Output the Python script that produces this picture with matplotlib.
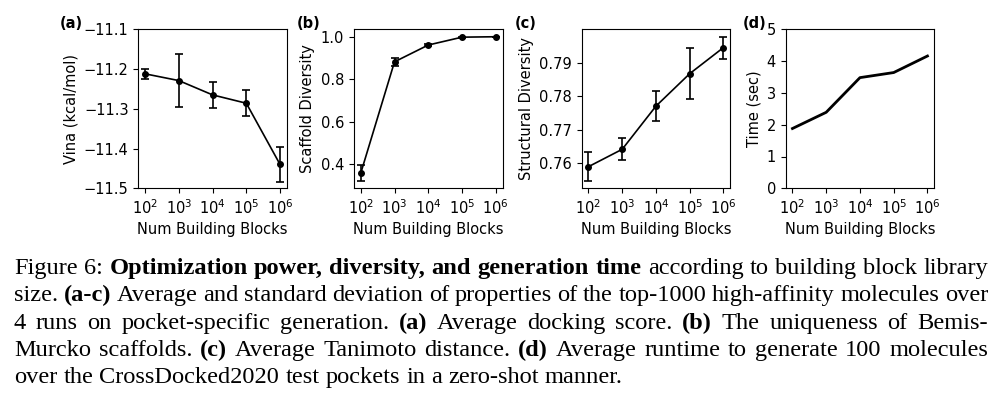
import numpy as np
import matplotlib
matplotlib.use("Agg")
import matplotlib.pyplot as plt
from matplotlib.ticker import NullLocator, MultipleLocator

# --- data ---
blocks = [1e2, 1e3, 1e4, 1e5, 1e6]
vina_mean = [-11.212, -11.229, -11.265, -11.286, -11.440]
vina_std = [0.013, 0.067, 0.033, 0.033, 0.043]
scaffold_mean = [0.358, 0.882, 0.961, 0.998, 1.000]
scaffold_std = [0.037, 0.018, 0.005, 0.003, 0.001]
struct_mean = [0.7589, 0.7641, 0.7770, 0.7867, 0.7945]
struct_std = [0.0043, 0.0033, 0.0044, 0.0077, 0.0033]
time_sec = [1.88, 2.39, 3.48, 3.64, 4.16]

panel_labels = ["(a)", "(b)", "(c)", "(d)"]
ylabels = ["Vina (kcal/mol)", "Scaffold Diversity", "Structural Diversity", "Time (sec)"]
xlabel = "Num Building Blocks"

caption = [
    [("Figure", 0), ("6:", 0), ("Optimization", 1), ("power,", 1), ("diversity,", 1), ("and", 1),
     ("generation", 1), ("time", 1), ("according", 0), ("to", 0), ("building", 0), ("block", 0), ("library", 0)],
    [("size.", 0), ("(a-c)", 1), ("Average", 0), ("and", 0), ("standard", 0), ("deviation", 0), ("of", 0),
     ("properties", 0), ("of", 0), ("the", 0), ("top-1000", 0), ("high-affinity", 0), ("molecules", 0), ("over", 0)],
    [("4", 0), ("runs", 0), ("on", 0), ("pocket-specific", 0), ("generation.", 0), ("(a)", 1), ("Average", 0),
     ("docking", 0), ("score.", 0), ("(b)", 1), ("The", 0), ("uniqueness", 0), ("of", 0), ("Bemis-", 0)],
    [("Murcko", 0), ("scaffolds.", 0), ("(c)", 1), ("Average", 0), ("Tanimoto", 0), ("distance.", 0), ("(d)", 1),
     ("Average", 0), ("runtime", 0), ("to", 0), ("generate", 0), ("100", 0), ("molecules", 0)],
    [("over", 0), ("the", 0), ("CrossDocked2020", 0), ("test", 0), ("pockets", 0), ("in", 0), ("a", 0),
     ("zero-shot", 0), ("manner.", 0)],
]

plt.rcParams['font.family'] = 'DejaVu Sans'
plt.rcParams['font.size'] = 10.5
plt.rcParams['mathtext.fontset'] = 'dejavusans'

W, H = 1001, 397
fig = plt.figure(figsize=(W / 100, H / 100), dpi=100)

lefts = [138.3, 354.0, 581.7, 785.7]
label_x = [60, 297, 515, 743]
ax_w, ax_top, ax_bot = 148.5, 29.3, 188.3

axes = []
for i, l in enumerate(lefts):
    ax = fig.add_axes([l / W, 1 - ax_bot / H, ax_w / W, (ax_bot - ax_top) / H])
    axes.append(ax)

kw = dict(color="black", lw=1.2, marker="o", ms=4, capsize=3, elinewidth=1.2, capthick=1.2)
axes[0].errorbar(blocks, vina_mean, yerr=vina_std, **kw)
axes[1].errorbar(blocks, scaffold_mean, yerr=scaffold_std, **kw)
axes[2].errorbar(blocks, struct_mean, yerr=struct_std, **kw)
axes[3].plot(blocks, time_sec, color="black", lw=2.0)

axes[0].set_ylim(-11.5, -11.1)
axes[0].yaxis.set_major_locator(MultipleLocator(0.1))
axes[1].yaxis.set_major_locator(MultipleLocator(0.2))
axes[2].yaxis.set_major_locator(MultipleLocator(0.01))
axes[3].set_ylim(0, 5)
axes[3].yaxis.set_major_locator(MultipleLocator(1))

for i, ax in enumerate(axes):
    ax.set_xscale("log")
    ax.xaxis.set_minor_locator(NullLocator())
    ax.set_xticks(blocks)
    ax.set_xlabel(xlabel)
    ax.set_ylabel(ylabels[i])
    fig.text(label_x[i] / W, 1 - 24 / H, panel_labels[i], fontweight="bold",
             fontsize=10.5, va="center", ha="left")

# --- caption, justified like the paper ---
cap_left, cap_right = 14, 988
baseline0, line_gap = 274, 27.3
cap_size = 17.6
renderer = fig.canvas.get_renderer()
for li, words in enumerate(caption):
    texts = []
    for word, bold in words:
        t = fig.text(0, 0, word, fontsize=cap_size, family="Liberation Serif",
                     fontweight="bold" if bold else "normal", va="baseline", ha="left")
        texts.append(t)
    widths = [t.get_window_extent(renderer).width for t in texts]
    space = renderer.points_to_pixels(cap_size) * 0.25
    if li < len(caption) - 1:
        space = (cap_right - cap_left - sum(widths)) / (len(words) - 1)
    x = cap_left
    y = 1 - (baseline0 + li * line_gap) / H
    for t, w in zip(texts, widths):
        t.set_position((x / W, y))
        x += w + space

fig.savefig("out.png", dpi=100)
